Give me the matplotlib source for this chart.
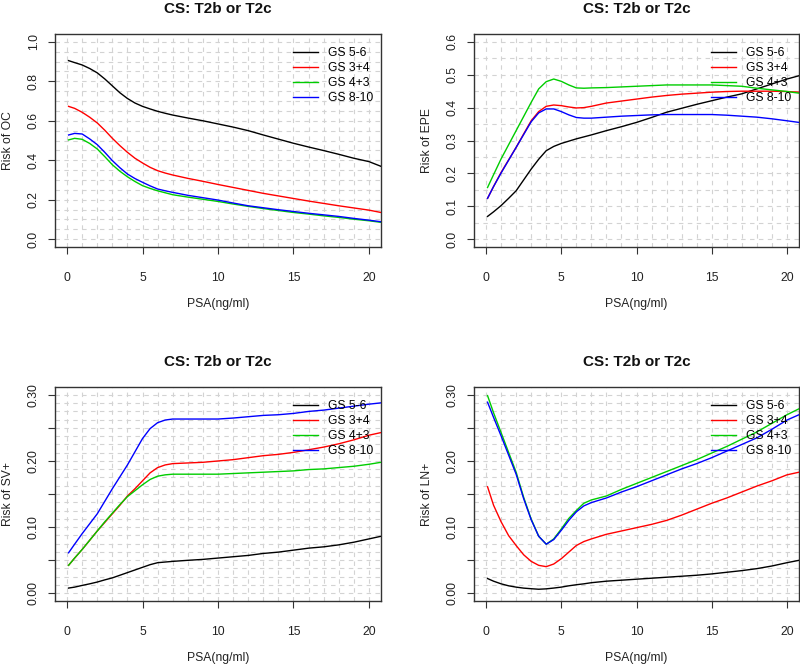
import matplotlib
matplotlib.use("Agg")
import matplotlib.pyplot as plt
from matplotlib.ticker import MultipleLocator
import numpy as np

plt.rcParams['font.family'] = ['Liberation Sans', 'DejaVu Sans']

# ---------------- data ----------------
x = [0.1, 0.5, 1, 1.5, 2, 2.5, 3, 3.5, 4, 4.5, 5, 5.5, 6, 6.5, 7, 8, 9, 10, 11, 12, 13, 14, 15, 16, 17, 18, 19, 20, 20.8]

series_names = ["GS 5-6", "GS 3+4", "GS 4+3", "GS 8-10"]
colors = ["black", "#FF0000", "#00CD00", "#0000FF"]

oc_gs56 = [0.905, 0.895, 0.883, 0.865, 0.843, 0.812, 0.777, 0.742, 0.713, 0.690, 0.673, 0.660, 0.648, 0.638, 0.629, 0.614, 0.600, 0.584, 0.568, 0.550, 0.528, 0.507, 0.486, 0.467, 0.449, 0.430, 0.410, 0.393, 0.369]
oc_gs34 = [0.673, 0.663, 0.643, 0.618, 0.589, 0.552, 0.511, 0.474, 0.440, 0.410, 0.386, 0.364, 0.347, 0.335, 0.325, 0.308, 0.293, 0.277, 0.262, 0.247, 0.232, 0.219, 0.206, 0.193, 0.181, 0.169, 0.158, 0.147, 0.135]
oc_gs43 = [0.503, 0.511, 0.506, 0.485, 0.457, 0.418, 0.377, 0.344, 0.316, 0.292, 0.271, 0.257, 0.245, 0.235, 0.225, 0.213, 0.202, 0.191, 0.178, 0.166, 0.155, 0.145, 0.135, 0.127, 0.118, 0.110, 0.101, 0.093, 0.085]
oc_gs810 = [0.528, 0.536, 0.533, 0.508, 0.479, 0.440, 0.398, 0.362, 0.330, 0.307, 0.288, 0.270, 0.254, 0.245, 0.237, 0.222, 0.210, 0.198, 0.183, 0.169, 0.159, 0.149, 0.140, 0.131, 0.123, 0.115, 0.105, 0.096, 0.088]

epe_gs56 = [0.069, 0.083, 0.102, 0.124, 0.147, 0.180, 0.213, 0.243, 0.269, 0.282, 0.291, 0.298, 0.305, 0.311, 0.317, 0.330, 0.342, 0.355, 0.370, 0.386, 0.398, 0.410, 0.421, 0.432, 0.442, 0.457, 0.472, 0.487, 0.497]
epe_gs34 = [0.124, 0.160, 0.203, 0.241, 0.279, 0.320, 0.360, 0.388, 0.404, 0.408, 0.406, 0.402, 0.399, 0.400, 0.404, 0.414, 0.420, 0.426, 0.432, 0.437, 0.441, 0.444, 0.447, 0.449, 0.450, 0.450, 0.450, 0.449, 0.447]
epe_gs43 = [0.157, 0.196, 0.244, 0.287, 0.330, 0.373, 0.416, 0.457, 0.479, 0.487, 0.480, 0.469, 0.460, 0.459, 0.460, 0.461, 0.463, 0.465, 0.467, 0.469, 0.469, 0.469, 0.469, 0.467, 0.465, 0.459, 0.454, 0.449, 0.444]
epe_gs810 = [0.124, 0.160, 0.201, 0.240, 0.279, 0.318, 0.357, 0.384, 0.396, 0.396, 0.388, 0.378, 0.370, 0.368, 0.368, 0.371, 0.374, 0.376, 0.378, 0.379, 0.379, 0.379, 0.379, 0.377, 0.374, 0.371, 0.366, 0.360, 0.355]

sv_gs56 = [0.0076, 0.009, 0.0116, 0.014, 0.0167, 0.020, 0.023, 0.027, 0.031, 0.035, 0.039, 0.043, 0.046, 0.047, 0.048, 0.0496, 0.051, 0.053, 0.055, 0.057, 0.060, 0.062, 0.065, 0.068, 0.070, 0.073, 0.077, 0.082, 0.086]
sv_gs34 = [0.042, 0.053, 0.066, 0.080, 0.094, 0.107, 0.120, 0.133, 0.147, 0.158, 0.170, 0.182, 0.190, 0.194, 0.196, 0.197, 0.198, 0.200, 0.202, 0.205, 0.208, 0.210, 0.213, 0.217, 0.221, 0.226, 0.232, 0.239, 0.243]
sv_gs43 = [0.042, 0.053, 0.066, 0.080, 0.094, 0.108, 0.121, 0.134, 0.146, 0.155, 0.164, 0.172, 0.177, 0.179, 0.180, 0.180, 0.180, 0.180, 0.181, 0.182, 0.183, 0.184, 0.185, 0.187, 0.188, 0.190, 0.192, 0.195, 0.198]
sv_gs810 = [0.061, 0.074, 0.090, 0.105, 0.120, 0.139, 0.158, 0.176, 0.194, 0.214, 0.234, 0.249, 0.258, 0.262, 0.2635, 0.2635, 0.2635, 0.2635, 0.265, 0.267, 0.269, 0.270, 0.272, 0.275, 0.277, 0.280, 0.283, 0.286, 0.288]

ln_gs56 = [0.022, 0.018, 0.014, 0.011, 0.009, 0.0075, 0.0066, 0.0058, 0.0064, 0.0076, 0.009, 0.011, 0.0126, 0.014, 0.0157, 0.018, 0.0195, 0.021, 0.0225, 0.024, 0.0255, 0.027, 0.029, 0.0315, 0.034, 0.037, 0.041, 0.046, 0.0496]
ln_gs34 = [0.161, 0.133, 0.108, 0.087, 0.072, 0.058, 0.048, 0.042, 0.040, 0.044, 0.052, 0.062, 0.072, 0.078, 0.082, 0.089, 0.094, 0.099, 0.104, 0.110, 0.118, 0.127, 0.136, 0.144, 0.153, 0.162, 0.170, 0.179, 0.183]
ln_gs43 = [0.299, 0.273, 0.243, 0.213, 0.183, 0.145, 0.112, 0.086, 0.074, 0.082, 0.097, 0.113, 0.125, 0.136, 0.141, 0.147, 0.157, 0.166, 0.175, 0.184, 0.193, 0.202, 0.212, 0.222, 0.233, 0.244, 0.257, 0.270, 0.279]
ln_gs810 = [0.289, 0.266, 0.238, 0.209, 0.180, 0.143, 0.111, 0.086, 0.074, 0.081, 0.095, 0.110, 0.123, 0.132, 0.137, 0.144, 0.153, 0.161, 0.170, 0.179, 0.188, 0.196, 0.205, 0.215, 0.225, 0.235, 0.248, 0.262, 0.270]

panels = [
    ("Risk of OC", [oc_gs56, oc_gs34, oc_gs43, oc_gs810], (0, 1.0), [0, 0.2, 0.4, 0.6, 0.8, 1.0], ["0.0", "0.2", "0.4", "0.6", "0.8", "1.0"], 0.05),
    ("Risk of EPE", [epe_gs56, epe_gs34, epe_gs43, epe_gs810], (0, 0.6), [0, 0.1, 0.2, 0.3, 0.4, 0.5, 0.6], ["0.0", "0.1", "0.2", "0.3", "0.4", "0.5", "0.6"], 0.05),
    ("Risk of SV+", [sv_gs56, sv_gs34, sv_gs43, sv_gs810], (0, 0.3), [0, 0.05, 0.1, 0.15, 0.2, 0.25, 0.3], ["0.00", "", "0.10", "", "0.20", "", "0.30"], 0.0125),
    ("Risk of LN+", [ln_gs56, ln_gs34, ln_gs43, ln_gs810], (0, 0.3), [0, 0.05, 0.1, 0.15, 0.2, 0.25, 0.3], ["0.00", "", "0.10", "", "0.20", "", "0.30"], 0.0125),
]

title = "CS: T2b or T2c"
xlabel = "PSA(ng/ml)"
xticks = [0, 5, 10, 15, 20]

# ---------------- figure ----------------
W, H = 800, 664
fig = plt.figure(figsize=(W / 100, H / 100), dpi=100)
fig.patch.set_facecolor("white")

rects = [
    (55, 34, 326, 213),
    (474, 34, 325, 213),
    (55, 387, 326, 214),
    (474, 387, 325, 214),
]

fs = 8.7
boxcol = "#333333"
for (ylab, ys, ylim, yt, ytl, gstep), (l, t, w, h) in zip(panels, rects):
    ax = fig.add_axes([l / W, 1 - (t + h) / H, w / W, h / H])
    for yv, c, nm in zip(ys, colors, series_names):
        ax.plot(x, yv, color=c, lw=1.0, label=nm, zorder=3)
    ax.set_xlim(-0.8, 20.8)
    ext = 0.04 * (ylim[1] - ylim[0])
    ax.set_ylim(ylim[0] - ext, ylim[1] + ext)
    ax.set_xticks(xticks)
    ax.set_xticklabels([str(v) for v in xticks])
    ax.set_yticks(yt)
    ax.set_yticklabels(ytl, rotation=90, va="center")
    ax.xaxis.set_minor_locator(MultipleLocator(1))
    ax.yaxis.set_minor_locator(MultipleLocator(gstep))
    ax.grid(which="both", color="#D3D3D3", linestyle=(0, (4, 4)), lw=0.8, zorder=0)
    ax.set_axisbelow(True)
    ax.tick_params(which="minor", length=0)
    ax.tick_params(which="major", length=5, width=0.8, color=boxcol, labelsize=fs, labelcolor="#222222")
    ax.tick_params(axis="x", pad=13)
    ax.tick_params(axis="y", pad=6)
    for sp in ax.spines.values():
        sp.set_color(boxcol)
        sp.set_linewidth(1.0)
    ax.set_xlabel(xlabel, fontsize=fs, labelpad=10, color="#222222")
    ax.set_ylabel(ylab, fontsize=fs, labelpad=10, color="#222222")
    ax.text(0.5, 1 + 25 / h, title, transform=ax.transAxes, ha="center", va="center",
            fontsize=11, fontweight="bold", color="#111111")
    ax.legend(loc="upper right", bbox_to_anchor=(1.0, 1.0 - 6 / h), frameon=False, fontsize=fs,
              handlelength=2.1, handletextpad=0.85, labelspacing=0.25, borderaxespad=0.3, borderpad=0.3)

fig.savefig("out.png", dpi=100, facecolor="white")
